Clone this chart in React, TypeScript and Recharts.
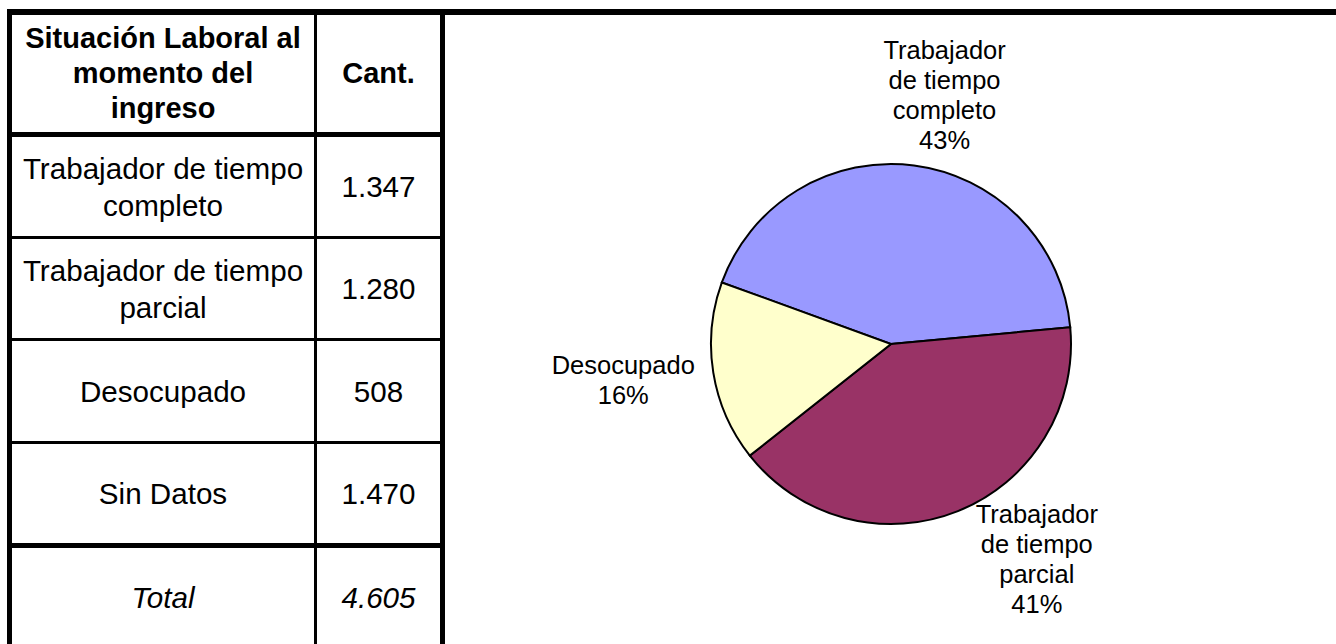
import React from 'react';
import { PieChart, Pie, Cell } from 'recharts';

// table rows
const categories = [
  'Trabajador de tiempo completo',
  'Trabajador de tiempo parcial',
  'Desocupado',
  'Sin Datos',
];
const counts = [1347, 1280, 508, 1470];
const totalLabel = 'Total';

// pie only shows the first three (no "Sin Datos")
const pieCategories = ['Trabajador de tiempo completo', 'Trabajador de tiempo parcial', 'Desocupado'];
const pieValues = [1347, 1280, 508];
const pieColors = ['#9999FF', '#993366', '#FFFFCC'];

const pieData = pieCategories.map((name, i) => ({ name, value: pieValues[i] }));
const total = counts.reduce((a, b) => a + b, 0);

const FONT = '"Liberation Sans", Arial, sans-serif';
const RADIAN = Math.PI / 180;

const fmt = (n: number) => String(n).replace(/\B(?=(\d{3})+(?!\d))/g, '.');

// greedy wrap like Excel does for data labels
const wrap = (text: string, max: number) => {
  const lines: string[] = [];
  let cur = '';
  text.split(' ').forEach((w) => {
    if (!cur) cur = w;
    else if ((cur + ' ' + w).length <= max) cur += ' ' + w;
    else {
      lines.push(cur);
      cur = w;
    }
  });
  if (cur) lines.push(cur);
  return lines;
};

// small nudges so labels sit where Excel put them
const labelNudge = [
  [21, 4],
  [51, -22],
  [-16, -5],
];

const renderLabel = (props: any) => {
  const { cx, cy, midAngle, outerRadius, percent, name, index } = props;
  const r = outerRadius + 75;
  const x = cx + r * Math.cos(-midAngle * RADIAN) + labelNudge[index][0];
  const y = cy + r * Math.sin(-midAngle * RADIAN) + labelNudge[index][1];
  const lines = [...wrap(name, 10), `${Math.round(percent * 100)}%`];
  const lh = 30;
  const y0 = y - ((lines.length - 1) * lh) / 2 + 9;
  return (
    <text x={x} y={y0} textAnchor="middle" fontFamily={FONT} fontSize={25.5} fill="#000">
      {lines.map((l, i) => (
        <tspan key={i} x={x} dy={i === 0 ? 0 : lh}>
          {l}
        </tspan>
      ))}
    </text>
  );
};

const Line = ({ x, y, w, h }: { x: number; y: number; w: number; h: number }) => (
  <div style={{ position: 'absolute', left: x, top: y, width: w, height: h, background: '#000' }} />
);

const Cell2 = ({
  x,
  y,
  w,
  h,
  children,
  style,
}: {
  x: number;
  y: number;
  w: number;
  h: number;
  children: React.ReactNode;
  style?: React.CSSProperties;
}) => (
  <div
    style={{
      position: 'absolute',
      left: x,
      top: y,
      width: w,
      height: h,
      display: 'flex',
      alignItems: 'center',
      justifyContent: 'center',
      textAlign: 'center',
      fontFamily: FONT,
      fontSize: 29.6,
      lineHeight: '37px',
      color: '#000',
      whiteSpace: 'nowrap',
      ...style,
    }}
  >
    <div>{children}</div>
  </div>
);

// row interiors [top, bottom]
const rows = [
  [15, 132],
  [137, 236],
  [239, 338],
  [341, 441],
  [444, 543],
  [548, 646],
];

const App: React.FC = () => {
  const c1 = { x: 12, w: 302 };
  const c2 = { x: 317, w: 123 };
  return (
    <div
      style={{
        position: 'absolute',
        left: 0,
        top: 0,
        width: 1336,
        height: 644,
        overflow: 'hidden',
        background: '#fff',
      }}
    >
      {/* header */}
      <Cell2
        x={c1.x}
        y={rows[0][0]}
        w={c1.w}
        h={rows[0][1] - rows[0][0]}
        style={{ fontWeight: 'bold', fontSize: 29, lineHeight: '35px' }}
      >
        Situación Laboral al
        <br />
        momento del
        <br />
        ingreso
      </Cell2>
      <Cell2 x={c2.x} y={rows[0][0]} w={c2.w} h={rows[0][1] - rows[0][0]} style={{ fontWeight: 'bold', fontSize: 29 }}>
        Cant.
      </Cell2>

      {categories.map((cat, i) => {
        const [t, b] = rows[i + 1];
        const words = cat.split(' ');
        const lines = words.length > 3 ? [words.slice(0, 3).join(' '), words.slice(3).join(' ')] : [cat];
        return (
          <React.Fragment key={cat}>
            <Cell2 x={c1.x} y={t} w={c1.w} h={b - t}>
              {lines.map((l, j) => (
                <div key={j}>{l}</div>
              ))}
            </Cell2>
            <Cell2 x={c2.x} y={t} w={c2.w} h={b - t}>
              {fmt(counts[i])}
            </Cell2>
          </React.Fragment>
        );
      })}

      <Cell2 x={c1.x} y={rows[5][0]} w={c1.w} h={rows[5][1] - rows[5][0]} style={{ fontStyle: 'italic' }}>
        {totalLabel}
      </Cell2>
      <Cell2 x={c2.x} y={rows[5][0]} w={c2.w} h={rows[5][1] - rows[5][0]} style={{ fontStyle: 'italic' }}>
        {fmt(total)}
      </Cell2>

      {/* borders */}
      <Line x={7} y={9} w={1329} h={6} />
      <Line x={7} y={9} w={5} h={640} />
      <Line x={314} y={15} w={3} h={630} />
      <Line x={440} y={15} w={5} h={630} />
      <Line x={7} y={132} w={438} h={5} />
      <Line x={7} y={236} w={438} h={3} />
      <Line x={7} y={338} w={438} h={3} />
      <Line x={7} y={441} w={438} h={3} />
      <Line x={7} y={543} w={438} h={5} />

      {/* pie */}
      <div style={{ position: 'absolute', left: 445, top: 15 }}>
        <PieChart width={891} height={629} margin={{ top: 0, right: 0, bottom: 0, left: 0 }}>
          <Pie
            data={pieData}
            dataKey="value"
            nameKey="name"
            cx={446}
            cy={329}
            outerRadius={180}
            startAngle={160}
            endAngle={-200}
            stroke="#000"
            strokeWidth={2}
            labelLine={false}
            label={renderLabel}
            isAnimationActive={false}
          >
            {pieData.map((d, i) => (
              <Cell key={d.name} fill={pieColors[i]} />
            ))}
          </Pie>
        </PieChart>
      </div>
    </div>
  );
};

export default App;
